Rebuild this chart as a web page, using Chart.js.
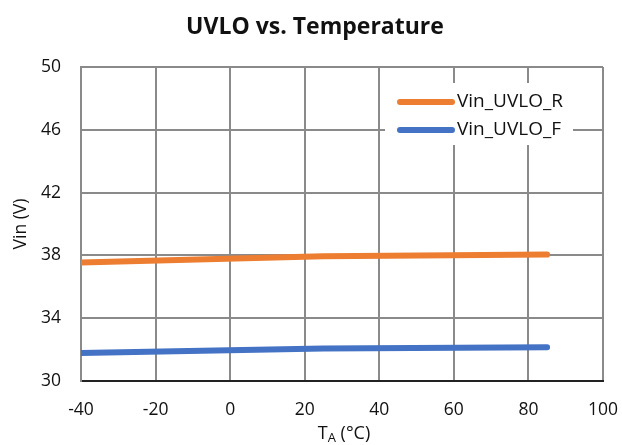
<!DOCTYPE html>
<html>
<head>
<meta charset="utf-8">
<script src="https://cdn.jsdelivr.net/npm/chart.js@4.4.0/dist/chart.umd.min.js"></script>
<style>
html,body{margin:0;padding:0;background:#fff;}
#wrap{width:622px;height:445px;position:relative;}
</style>
</head>
<body>
<div id="wrap"><canvas id="c" width="622" height="445"></canvas></div>
<script>
const temperatures = [-40, 25, 85];
const vinUvloR = [37.55, 37.95, 38.05];
const vinUvloF = [31.79, 32.07, 32.15];
const xTicks = [-40, -20, 0, 20, 40, 60, 80, 100];
const yTicks = [30, 34, 38, 42, 46, 50];
const seriesLabels = ['Vin_UVLO_R', 'Vin_UVLO_F'];
const chartTitle = 'UVLO vs. Temperature';
const yTitle = 'Vin (V)';

const FONT = '"Open Sans", sans-serif';
const TXT = '#111';

const overlay = {
  id: 'overlay',
  afterDraw(chart) {
    const ctx = chart.ctx;
    const a = chart.chartArea;
    ctx.save();
    // title
    ctx.fillStyle = TXT;
    ctx.font = 'bold 23px ' + FONT;
    ctx.textAlign = 'center';
    ctx.textBaseline = 'middle';
    ctx.fillText(chartTitle, 315, 27);
    // y title
    ctx.save();
    ctx.translate(21, (a.top + a.bottom) / 2);
    ctx.rotate(-Math.PI / 2);
    ctx.font = '17.5px ' + FONT;
    ctx.fillText(yTitle, 0, 0);
    ctx.restore();
    // x title T_A (°C)
    const p1 = 'T', p3 = ' (°C)';
    ctx.font = '13px ' + FONT;
    const wA = ctx.measureText('A').width;
    ctx.font = '18px ' + FONT;
    const w1 = ctx.measureText(p1).width, w3 = ctx.measureText(p3).width;
    const total = w1 + wA + w3;
    let x = 344 - total / 2;
    const yB = 434;
    ctx.textAlign = 'left';
    ctx.fillText(p1, x, yB);
    ctx.font = '13px ' + FONT;
    ctx.fillText('A', x + w1, yB + 4);
    ctx.font = '18px ' + FONT;
    ctx.fillText(p3, x + w1 + wA, yB);
    // legend
    ctx.fillStyle = '#fff';
    ctx.fillRect(385, 83, 188, 62);
    const ys = [102, 130];
    chart.data.datasets.forEach((ds, i) => {
      ctx.strokeStyle = ds.borderColor;
      ctx.lineWidth = 6;
      ctx.lineCap = 'round';
      ctx.beginPath();
      ctx.moveTo(400, ys[i]);
      ctx.lineTo(452, ys[i]);
      ctx.stroke();
      ctx.fillStyle = TXT;
      ctx.font = '19px ' + FONT;
      ctx.textAlign = 'left';
      ctx.textBaseline = 'middle';
      ctx.fillText(ds.label, 457, ys[i]);
    });
    ctx.restore();
  }
};

new Chart(document.getElementById('c'), {
  type: 'line',
  data: {
    datasets: [
      { label: seriesLabels[0], data: temperatures.map((t, i) => ({x: t, y: vinUvloR[i]})),
        borderColor: '#ED7D31', backgroundColor: '#ED7D31', borderWidth: 6, pointRadius: 0,
        borderCapStyle: 'round', tension: 0 },
      { label: seriesLabels[1], data: temperatures.map((t, i) => ({x: t, y: vinUvloF[i]})),
        borderColor: '#4472C4', backgroundColor: '#4472C4', borderWidth: 6, pointRadius: 0,
        borderCapStyle: 'round', tension: 0 }
    ]
  },
  options: {
    responsive: false,
    animation: false,
    layout: { padding: { top: 67, right: 19, left: 0, bottom: 0 } },
    plugins: { legend: { display: false }, title: { display: false }, tooltip: { enabled: false } },
    scales: {
      x: {
        type: 'linear', min: -40, max: 100,
        afterBuildTicks: s => { s.ticks = xTicks.map(v => ({value: v})); },
        afterFit: s => { s.height = 64; s.paddingLeft = 0; s.paddingRight = 0; },
        grid: { color: '#8a8a8a', lineWidth: 2, drawTicks: false },
        border: { color: '#222', width: 2 },
        ticks: { padding: 19, color: TXT, font: { family: FONT, size: 17.5 } }
      },
      y: {
        min: 30, max: 50,
        afterBuildTicks: s => { s.ticks = yTicks.map(v => ({value: v})); },
        afterFit: s => { s.width = 81; s.paddingTop = 0; s.paddingBottom = 0; },
        grid: { color: '#8a8a8a', lineWidth: 2, drawTicks: false },
        border: { color: '#8a8a8a', width: 2 },
        ticks: { padding: 20, color: TXT, font: { family: FONT, size: 17.5 } }
      }
    }
  },
  plugins: [overlay]
});
</script>
</body>
</html>
